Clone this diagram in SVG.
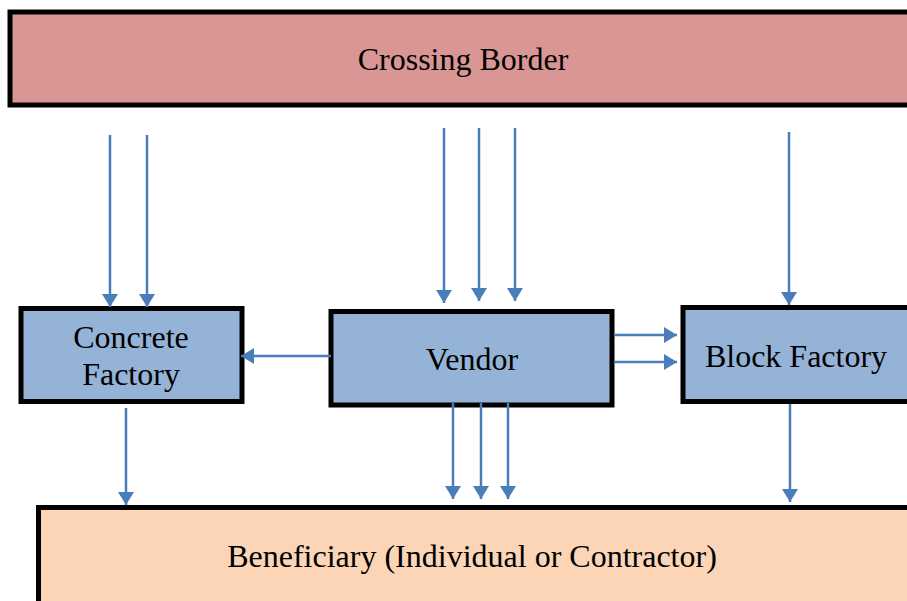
<svg xmlns="http://www.w3.org/2000/svg" width="907" height="601" viewBox="0 0 907 601">
  <defs>
    <marker id="arrow" viewBox="0 0 13 16" refX="13" refY="8" markerWidth="13" markerHeight="16" markerUnits="userSpaceOnUse" orient="auto">
      <path d="M0,0 L13,8 L0,16 Z" fill="#4a7ebb"/>
    </marker>
    <style>
      .box { stroke: #000; stroke-width: 5; }
      .label { font-family: "Liberation Serif", "Times New Roman", serif; font-size: 32px; fill: #000; text-anchor: middle; }
      .conn line { stroke: #4a7ebb; stroke-width: 2.5; marker-end: url(#arrow); }
    </style>
  </defs>
  <rect width="907" height="601" fill="#fff"/>

  <g id="crossing-border">
    <rect class="box" x="10" y="12" width="910" height="93" fill="#d99694"/>
    <text class="label" x="463" y="70">Crossing Border</text>
  </g>

  <g id="concrete-factory">
    <rect class="box" x="21" y="308.5" width="221" height="93" fill="#95b3d7"/>
    <text class="label" x="131" y="348">Concrete</text>
    <text class="label" x="131" y="385">Factory</text>
  </g>

  <g id="vendor">
    <rect class="box" x="331" y="311.5" width="281" height="93.5" fill="#95b3d7"/>
    <text class="label" x="472" y="370">Vendor</text>
  </g>

  <g id="block-factory">
    <rect class="box" x="683" y="307.5" width="240" height="94" fill="#95b3d7"/>
    <text class="label" x="796" y="367">Block Factory</text>
  </g>

  <g id="beneficiary">
    <rect class="box" x="38.5" y="507.5" width="890" height="110" fill="#fbd5b5"/>
    <text class="label" x="472" y="567">Beneficiary (Individual or Contractor)</text>
  </g>

  <g id="connectors" class="conn">
    <!-- Crossing Border to Concrete Factory -->
    <line x1="110" y1="135" x2="110" y2="307"/>
    <line x1="147" y1="135" x2="147" y2="307"/>
    <!-- Crossing Border to Vendor -->
    <line x1="444" y1="128" x2="444" y2="303"/>
    <line x1="479" y1="128" x2="479" y2="301"/>
    <line x1="515" y1="128" x2="515" y2="301"/>
    <!-- Crossing Border to Block Factory -->
    <line x1="789" y1="132" x2="789" y2="305"/>
    <!-- Vendor to Concrete Factory -->
    <line x1="331" y1="356" x2="241" y2="356"/>
    <!-- Vendor to Block Factory -->
    <line x1="614" y1="335" x2="677" y2="335"/>
    <line x1="614" y1="362" x2="677" y2="362"/>
    <!-- Concrete Factory to Beneficiary -->
    <line x1="126" y1="408" x2="126" y2="505"/>
    <!-- Vendor to Beneficiary -->
    <line x1="453" y1="403" x2="453" y2="499"/>
    <line x1="481" y1="403" x2="481" y2="499"/>
    <line x1="508" y1="403" x2="508" y2="499"/>
    <!-- Block Factory to Beneficiary -->
    <line x1="790" y1="404" x2="790" y2="502"/>
  </g>
</svg>
